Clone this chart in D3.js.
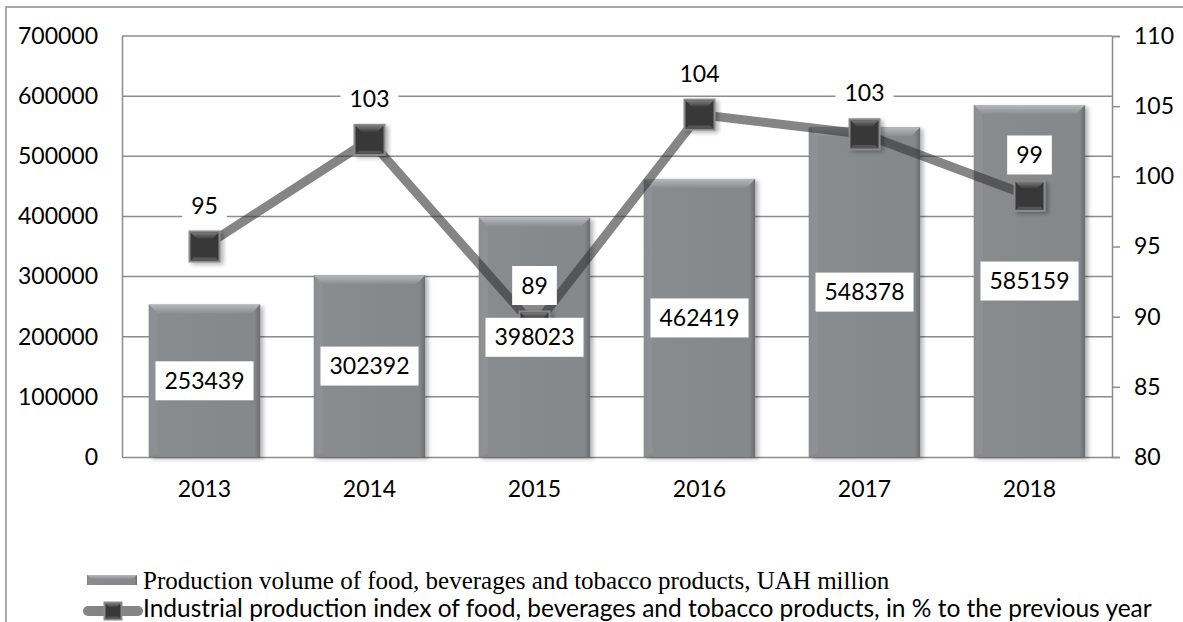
<!DOCTYPE html>
<html>
<head>
<meta charset="utf-8">
<script src="https://cdn.jsdelivr.net/npm/d3@7"></script>
<style>
  body { margin: 0; background: #fff; }
  svg text { font-family: Lato, "Open Sans", sans-serif; }
</style>
</head>
<body>
<div id="chart"></div>
<script>
// chart data
const years = ["2013", "2014", "2015", "2016", "2017", "2018"]
const volume = [253439, 302392, 398023, 462419, 548378, 585159]
const prodIndex = [95.0, 102.6, 89.3, 104.4, 103.0, 98.6]
const leftTicks = [0, 100000, 200000, 300000, 400000, 500000, 600000, 700000]
const rightTicks = [80, 85, 90, 95, 100, 105, 110]
const legendNames = [
    "Production volume of food, beverages and tobacco products, UAH million",
    "Industrial production index of food, beverages and tobacco products, in % to the previous year"
]

const W = 1183, H = 622
const plot = {left: 122, right: 1112, top: 36, bottom: 457}
const gridColor = "#8c8c8c"
const fontSize = "23px"

const svg = d3.select("#chart")
    .append("svg")
    .attr("width", W)
    .attr("height", H)

const defs = svg.append("defs")

// bar side shading
const barGrad = defs.append("linearGradient").attr("id", "barGrad")
    .attr("x1", 0).attr("x2", 1).attr("y1", 0).attr("y2", 0)
barGrad.append("stop").attr("offset", "0%").attr("stop-color", "#7c7d81")
barGrad.append("stop").attr("offset", "3%").attr("stop-color", "#8a8b8f")
barGrad.append("stop").attr("offset", "95%").attr("stop-color", "#86878b")
barGrad.append("stop").attr("offset", "100%").attr("stop-color", "#6a6b6f")

const bevelGrad = defs.append("linearGradient").attr("id", "bevelGrad")
    .attr("x1", 0).attr("x2", 0).attr("y1", 0).attr("y2", 1)
bevelGrad.append("stop").attr("offset", "0%").attr("stop-color", "#b8b9bd")
bevelGrad.append("stop").attr("offset", "100%").attr("stop-color", "#8c8d91")

const markGrad = defs.append("linearGradient").attr("id", "markGrad")
    .attr("x1", 0).attr("x2", 0).attr("y1", 0).attr("y2", 1)
markGrad.append("stop").attr("offset", "0%").attr("stop-color", "#7a7a7a")
markGrad.append("stop").attr("offset", "100%").attr("stop-color", "#3c3c3c")

const shadow = defs.append("filter").attr("id", "shadow")
    .attr("x", "-20%").attr("y", "-20%").attr("width", "140%").attr("height", "140%")
shadow.append("feDropShadow")
    .attr("dx", 3).attr("dy", 2).attr("stdDeviation", 2)
    .attr("flood-color", "#000").attr("flood-opacity", 0.3)

// outer frame (top and left edges only are visible)
svg.append("path")
    .attr("d", `M6,${H} L6,7 L${W},7`)
    .attr("fill", "none")
    .attr("stroke", gridColor)
    .attr("stroke-width", 1.5)

// scales
const x = d3.scaleBand()
    .domain(years)
    .range([plot.left, plot.right])
    .padding(0)
const barW = x.bandwidth() * 0.675

const y = d3.scaleLinear()
    .domain([0, 700000])
    .range([plot.bottom, plot.top])

const y2 = d3.scaleLinear()
    .domain([80, 110])
    .range([plot.bottom, plot.top])

// gridlines
svg.append("g")
    .selectAll("line")
    .data(leftTicks.slice(1))
    .join("line")
    .attr("x1", plot.left)
    .attr("x2", plot.right)
    .attr("y1", d => y(d))
    .attr("y2", d => y(d))
    .attr("stroke", gridColor)
    .attr("stroke-width", 1.5)

// left axis
const gLeft = svg.append("g")
    .attr("transform", `translate(${plot.left},0)`)
    .call(d3.axisLeft(y).tickValues(leftTicks).tickSize(0).tickPadding(24).tickFormat(d3.format("d")))
gLeft.select(".domain").attr("stroke", gridColor).attr("stroke-width", 1.5)
gLeft.selectAll("text").style("font-size", fontSize).attr("fill", "#000")

// right axis
const gRight = svg.append("g")
    .attr("transform", `translate(${plot.right},0)`)
    .call(d3.axisRight(y2).tickValues(rightTicks).tickSize(8).tickPadding(14))
gRight.select(".domain").attr("stroke", gridColor).attr("stroke-width", 1.5)
gRight.selectAll("line").attr("stroke", gridColor).attr("stroke-width", 1.5)
gRight.selectAll("text").style("font-size", fontSize).attr("fill", "#000")

// bottom axis
const gBottom = svg.append("g")
    .attr("transform", `translate(0,${plot.bottom})`)
    .call(d3.axisBottom(x).tickSize(0).tickPadding(24))
gBottom.select(".domain").attr("stroke", gridColor).attr("stroke-width", 1.5)
gBottom.selectAll("text").style("font-size", fontSize).attr("fill", "#000")

// bars
const data = years.map((yr, i) => ({year: yr, vol: volume[i], idx: prodIndex[i]}))

const bars = svg.append("g")
    .selectAll("g")
    .data(data)
    .join("g")
    .attr("transform", d => `translate(${x(d.year) + (x.bandwidth() - barW) / 2},${y(d.vol)})`)

bars.append("rect")
    .attr("width", barW)
    .attr("height", d => y(0) - y(d.vol))
    .attr("fill", "url(#barGrad)")
    .attr("filter", "url(#shadow)")
bars.append("path")
    .attr("d", `M0,0 L${barW},0 L${barW - 9},9 L9,9 Z`)
    .attr("fill", "url(#bevelGrad)")
bars.append("path")
    .attr("d", d => `M0,0 L9,9 L9,${y(0) - y(d.vol) - 4} L0,${y(0) - y(d.vol)} Z`)
    .attr("fill", "#93949a")
    .attr("opacity", 0.6)

// index line
const line = d3.line()
    .x(d => x(d.year) + x.bandwidth() / 2)
    .y(d => y2(d.idx))

svg.append("path")
    .datum(data)
    .attr("d", line)
    .attr("fill", "none")
    .attr("stroke", "#333")
    .attr("stroke-opacity", 0.6)
    .attr("stroke-width", 9)
    .attr("stroke-linejoin", "miter")

// markers
function drawMarker(g, s) {
    g.append("rect")
        .attr("x", -s / 2).attr("y", -s / 2)
        .attr("width", s).attr("height", s)
        .attr("fill", "#8a8a8a")
    g.append("rect")
        .attr("x", -s / 2 + 2).attr("y", -s / 2 + 2)
        .attr("width", s - 4).attr("height", s - 4)
        .attr("fill", "#383838")
    const b = s * 0.2
    g.append("path")
        .attr("d", `M${-s / 2 + 2},${-s / 2 + 2} L${s / 2 - 2},${-s / 2 + 2} L${s / 2 - 2 - b},${-s / 2 + 2 + b} L${-s / 2 + 2 + b},${-s / 2 + 2 + b} Z`)
        .attr("fill", "url(#markGrad)")
    g.append("path")
        .attr("d", `M${-s / 2 + 2},${s / 2 - 2} L${s / 2 - 2},${s / 2 - 2} L${s / 2 - 2 - b / 2},${s / 2 - 2 - b / 2} L${-s / 2 + 2 + b / 2},${s / 2 - 2 - b / 2} Z`)
        .attr("fill", "#555")
}

svg.append("g")
    .selectAll("g")
    .data(data)
    .join("g")
    .attr("transform", d => `translate(${x(d.year) + x.bandwidth() / 2},${y2(d.idx)})`)
    .attr("filter", "url(#shadow)")
    .each(function () { drawMarker(d3.select(this), 32) })

// labels with white boxes
function boxLabel(g, text, cx, cy) {
    const t = g.append("text")
        .attr("x", cx).attr("y", cy)
        .attr("text-anchor", "middle")
        .attr("dy", "0.35em")
        .style("font-size", fontSize)
        .attr("fill", "#000")
        .text(text)
    const w = t.node().getComputedTextLength()
    g.insert("rect", "text")
        .attr("x", cx - w / 2 - 9).attr("y", cy - 19.5)
        .attr("width", w + 18).attr("height", 39)
        .attr("fill", "#fff")
}

data.forEach(d => {
    const g = svg.append("g")
    boxLabel(g, d3.format("d")(d.vol), x(d.year) + x.bandwidth() / 2, (y(d.vol) + y(0)) / 2)
})
data.forEach(d => {
    const g = svg.append("g")
    boxLabel(g, Math.round(d.idx), x(d.year) + x.bandwidth() / 2, y2(d.idx) - 41)
})

// legend
const leg = svg.append("g")
const l1 = leg.append("g").attr("transform", "translate(87,575)")
l1.append("rect").attr("width", 50).attr("height", 10).attr("fill", "url(#barGrad)")
l1.append("path").attr("d", "M0,0 L50,0 L45,4 L5,4 Z").attr("fill", "url(#bevelGrad)")
leg.append("text")
    .attr("x", 143).attr("y", 589)
    .style("font-family", "'Liberation Serif', 'Times New Roman', serif")
    .style("font-size", "25px")
    .attr("fill", "#000")
    .text(legendNames[0])

leg.append("line")
    .attr("x1", 88).attr("x2", 138)
    .attr("y1", 611).attr("y2", 611)
    .attr("stroke", "#333")
    .attr("stroke-opacity", 0.6)
    .attr("stroke-width", 10)
    .attr("stroke-linecap", "round")
const lm = leg.append("g").attr("transform", "translate(113,611)")
drawMarker(lm, 19)
leg.append("text")
    .attr("x", 143).attr("y", 617)
    .style("font-size", "24.5px")
    .attr("fill", "#000")
    .text(legendNames[1])
</script>
</body>
</html>
